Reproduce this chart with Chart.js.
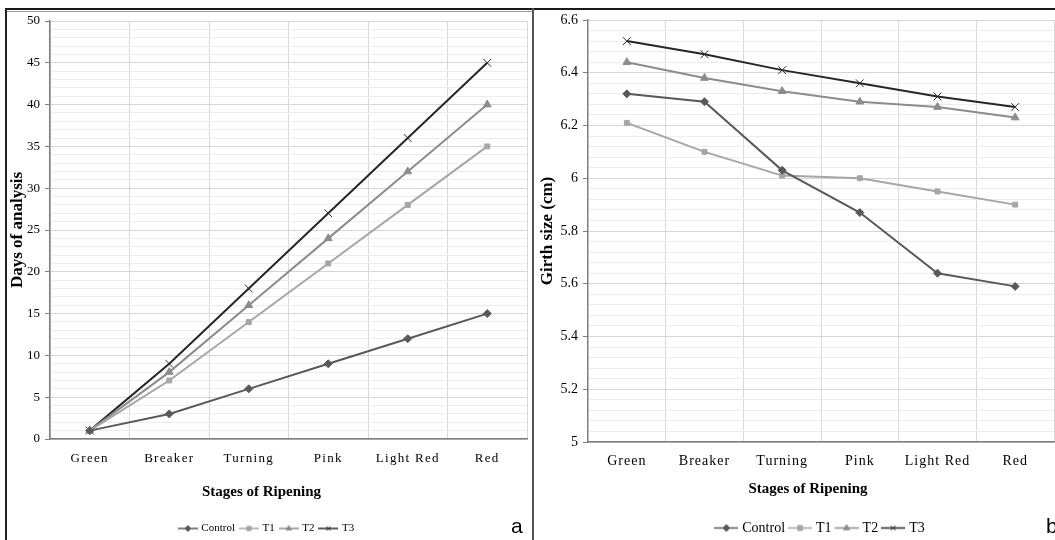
<!DOCTYPE html>
<html>
<head>
<meta charset="utf-8">
<script src="https://cdn.jsdelivr.net/npm/chart.js@4.4.1/dist/chart.umd.min.js"></script>
<style>
    body { margin: 0; width: 1055px; height: 540px; overflow: hidden; position: relative; background: #fff; }
    .rule { position: absolute; }
    #daysChart { position: absolute; left: 7px; top: 12px; }
    #girthChart { position: absolute; left: 534px; top: 12px; }
    .tag { position: absolute; font-family: "Liberation Sans", Arial, sans-serif; font-size: 21px; color: #000; line-height: 1; }
</style>
</head>
<body>
<div class="rule" style="left:5px;top:8px;width:1050px;height:2px;background:#1a1a1a"></div>
<div class="rule" style="left:7px;top:11px;width:525px;height:1px;background:#9a9a9a"></div>
<div class="rule" style="left:5px;top:8px;width:2px;height:532px;background:#222"></div>
<div class="rule" style="left:532px;top:8px;width:2px;height:532px;background:#555"></div>

<canvas id="daysChart" width="525" height="540"></canvas>
<canvas id="girthChart" width="521" height="540"></canvas>

<div class="tag" style="left:511px;top:515px">a</div>
<div class="tag" style="left:1046px;top:515px">b</div>

<script>
const stages = ['Green', 'Breaker', 'Turning', 'Pink', 'Light Red', 'Red'];
const seriesNames = ['Control', 'T1', 'T2', 'T3'];

// panel a - days of analysis
const daysControl = [1, 3, 6, 9, 12, 15];
const daysT1 = [1, 7, 14, 21, 28, 35];
const daysT2 = [1, 8, 16, 24, 32, 40];
const daysT3 = [1, 9, 18, 27, 36, 45];
const daysTicks = [0, 5, 10, 15, 20, 25, 30, 35, 40, 45, 50];

// panel b - girth size (cm)
const girthControl = [6.32, 6.29, 6.03, 5.87, 5.64, 5.59];
const girthT1 = [6.21, 6.10, 6.01, 6.00, 5.95, 5.90];
const girthT2 = [6.44, 6.38, 6.33, 6.29, 6.27, 6.23];
const girthT3 = [6.52, 6.47, 6.41, 6.36, 6.31, 6.27];
const girthTicks = [5, 5.2, 5.4, 5.6, 5.8, 6, 6.2, 6.4, 6.6];

const serif = '"Liberation Serif", "Times New Roman", serif';

const looks = [
    { color: '#595959', point: 'rectRot', radius: 4 },
    { color: '#a6a6a6', point: 'rect', radius: 3.5 },
    { color: '#8c8c8c', point: 'triangle', radius: 4.5 },
    { color: '#262626', point: 'crossRot', radius: 5.5 },
];

const findTick = (list, v) => list.find(t => Math.abs(t - v) < 1e-6);

// line + marker sample used as the legend symbol
function legendIcon(look, w, r) {
    const c = document.createElement('canvas');
    c.width = w;
    c.height = Math.ceil(r * 2 + 4);
    const ctx = c.getContext('2d');
    const mid = c.height / 2;
    ctx.strokeStyle = look.color;
    ctx.fillStyle = look.color;
    ctx.lineWidth = 1.5;
    ctx.beginPath();
    ctx.moveTo(0, mid);
    ctx.lineTo(w, mid);
    ctx.stroke();
    ctx.lineWidth = 1;
    Chart.helpers.drawPoint(ctx, { pointStyle: look.point, radius: r, rotation: 0, borderWidth: 1 }, w / 2, mid);
    return c;
}

// letter spaced category labels, shifted axis title
const spacedTicks = {
    id: 'spacedTicks',
    beforeDraw(chart, args, opts) {
        const sc = chart.scales.x;
        if (sc._spaced) return;
        const ctx = chart.ctx;
        const labels = sc.drawLabels.bind(sc);
        const title = sc.drawTitle.bind(sc);
        sc.drawLabels = (area) => {
            ctx.save();
            ctx.letterSpacing = opts.spacing + 'px';
            labels(area);
            ctx.restore();
        };
        sc.drawTitle = () => {
            ctx.save();
            ctx.translate(opts.titleShift, 0);
            title();
            ctx.restore();
        };
        sc._spaced = true;
    }
};

function makeSets(values) {
    return values.map((data, i) => ({
        label: seriesNames[i],
        data: data,
        borderColor: looks[i].color,
        backgroundColor: looks[i].color,
        borderWidth: 2,
        pointStyle: looks[i].point,
        pointRadius: looks[i].radius,
        pointHoverRadius: looks[i].radius,
        pointBorderWidth: 1,
        pointBackgroundColor: looks[i].color,
        pointBorderColor: looks[i].color,
        tension: 0,
        fill: false,
    }));
}

function makeOptions(cfg) {
    const icons = looks.map(l => legendIcon(l, cfg.iconWidth, cfg.iconRadius));
    return {
        responsive: false,
        animation: false,
        layout: { padding: cfg.padding, autoPadding: false },
        scales: {
            x: {
                type: 'category',
                offset: true,
                grid: { offset: true, color: '#d9d9d9', drawTicks: false },
                border: { color: '#7f7f7f', width: 1.5 },
                ticks: {
                    padding: cfg.xTickPad,
                    color: '#000',
                    autoSkip: false,
                    maxRotation: 0,
                    font: { family: serif, size: cfg.xTickSize },
                },
                title: {
                    display: true,
                    text: 'Stages of Ripening',
                    color: '#000',
                    font: { family: serif, size: 15, weight: 'bold' },
                    padding: { top: 0, bottom: cfg.xTitlePad },
                },
                afterFit: (s) => {
                    s.height = cfg.xHeight;
                    s.paddingLeft = 0;
                    s.paddingRight = 0;
                },
            },
            y: {
                min: cfg.yMin,
                max: cfg.yMax,
                ticks: {
                    stepSize: cfg.minorStep,
                    maxTicksLimit: 200,
                    autoSkip: false,
                    padding: 5,
                    color: '#000',
                    font: { family: serif, size: cfg.yTickSize },
                    callback: (v) => {
                        const hit = findTick(cfg.majors, v);
                        return hit === undefined ? '' : String(hit);
                    },
                },
                grid: {
                    color: (c) => findTick(cfg.majors, c.tick.value) !== undefined ? '#d6d6d6' : '#ededed',
                    tickColor: (c) => findTick(cfg.majors, c.tick.value) !== undefined ? '#7f7f7f' : 'rgba(0,0,0,0)',
                    tickLength: 5,
                },
                border: { color: '#7f7f7f', width: 1.5 },
                title: {
                    display: true,
                    text: cfg.yTitle,
                    color: '#000',
                    font: { family: serif, size: 17, weight: 'bold' },
                    padding: { top: cfg.yTitlePad, bottom: 0 },
                },
                afterFit: (s) => {
                    s.width = cfg.yWidth;
                    s.paddingTop = 0;
                    s.paddingBottom = 0;
                },
            }
        },
        plugins: {
            legend: {
                position: 'bottom',
                fullSize: cfg.legendFull,
                labels: {
                    color: '#000',
                    font: { family: serif, size: cfg.legendSize },
                    padding: 6,
                    usePointStyle: true,
                    pointStyleWidth: cfg.iconBox,
                    generateLabels(chart) {
                        const items = Chart.defaults.plugins.legend.labels.generateLabels(chart);
                        items.forEach((it, i) => { it.pointStyle = icons[i]; });
                        return items;
                    }
                }
            },
            tooltip: { enabled: false },
            spacedTicks: { spacing: cfg.letterSpacing, titleShift: cfg.titleShift },
        }
    };
}

const daysCtx = document.getElementById('daysChart').getContext('2d');
new Chart(daysCtx, {
    type: 'line',
    data: {
        labels: stages,
        datasets: makeSets([daysControl, daysT1, daysT2, daysT3]),
    },
    options: makeOptions({
        padding: { left: 0, top: 9, right: 5, bottom: 8 },
        yMin: 0, yMax: 50, minorStep: 1, majors: daysTicks,
        yTickSize: 13, yWidth: 43, yTitle: 'Days of analysis', yTitlePad: 0,
        xTickSize: 13, xTickPad: 12, xTitlePad: 16, xHeight: 78,
        legendSize: 11, legendFull: true, iconWidth: 20, iconRadius: 3, iconBox: 16,
        letterSpacing: 1.3, titleShift: -27,
    }),
    plugins: [spacedTicks],
});

const girthCtx = document.getElementById('girthChart').getContext('2d');
new Chart(girthCtx, {
    type: 'line',
    data: {
        labels: stages,
        datasets: makeSets([girthControl, girthT1, girthT2, girthT3]),
    },
    options: makeOptions({
        padding: { left: 0, top: 8, right: 1, bottom: 7 },
        yMin: 5, yMax: 6.6, minorStep: 0.04, majors: girthTicks,
        yTickSize: 14, yWidth: 54, yTitle: 'Girth size (cm)', yTitlePad: 3,
        xTickSize: 14, xTickPad: 11, xTitlePad: 17, xHeight: 73,
        legendSize: 14, legendFull: false, iconWidth: 24, iconRadius: 3.5, iconBox: 18,
        letterSpacing: 1.0, titleShift: -13,
    }),
    plugins: [spacedTicks],
});
</script>
</body>
</html>
